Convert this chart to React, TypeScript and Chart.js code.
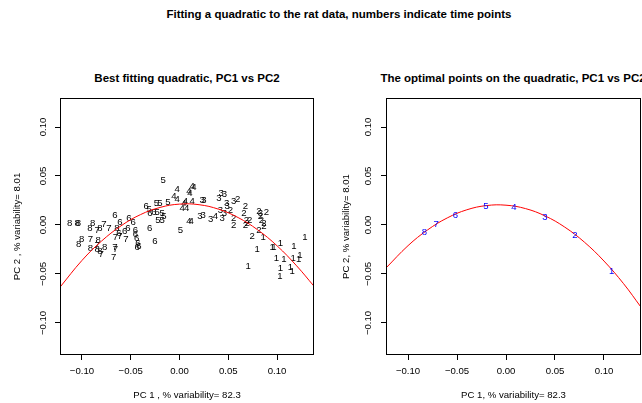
import React, { useEffect, useRef } from "react";
import { Chart, registerables } from "chart.js";

Chart.register(...registerables);

const FONT = "'Liberation Sans', Arimo, Arial, Helvetica, sans-serif";

const mainTitle = "Fitting a quadratic to the rat data, numbers indicate time points";
const leftTitle = "Best fitting quadratic, PC1 vs PC2";
const rightTitle = "The optimal points on the quadratic, PC1 vs PC2";
const leftXTitle = "PC 1 , % variability= 82.3";
const leftYTitle = "PC 2 , % variability= 8.01";
const rightXTitle = "PC 1, % variability= 82.3";
const rightYTitle = "PC 2, % variability= 8.01";

const tickValues = [-0.1, -0.05, 0, 0.05, 0.1];
const tickLabels = ["\u22120.10", "\u22120.05", "0.00", "0.05", "0.10"];
const xRange = [-0.1225, 0.1378];
const yRange = [-0.1327, 0.1296];

// Left panel: every sample, labelled by its time point
const timePoint = [
  8, 8, 8, 8, 8, 8, 8, 8, 8, 8, 8, 8, 8, 8,
  7, 7, 7, 7, 7, 7, 7, 7, 7, 7, 7, 7,
  6, 6, 6, 6, 6, 6, 6, 6, 6, 6, 6, 6, 6, 6, 6, 6, 6, 6,
  5, 5, 5, 5, 5, 5, 5, 5, 5, 5, 5,
  4, 4, 4, 4, 4, 4, 4, 4, 4, 4, 4, 4, 4, 4, 4,
  3, 3, 3, 3, 3, 3, 3, 3, 3, 3, 3, 3, 3, 3, 3,
  2, 2, 2, 2, 2, 2, 2, 2, 2, 2, 2, 2, 2, 2, 2, 2, 2, 2,
  1, 1, 1, 1, 1, 1, 1, 1, 1, 1, 1, 1, 1, 1, 1, 1, 1,
];
const pc1 = [
  -0.1127, -0.1048, -0.1035, -0.0919, -0.0889, -0.0817, -0.1003, -0.1033, -0.0834, -0.0912, -0.0844, -0.0768, -0.0817, -0.0642,
  -0.0844, -0.0776, -0.0724, -0.0912, -0.0844, -0.0803, -0.0656, -0.0612, -0.055, -0.0663, -0.0656, -0.0676,
  -0.0663, -0.0612, -0.0519, -0.0475, -0.0563, -0.0529, -0.0622, -0.0451, -0.0451, -0.044, -0.0427, -0.0417, -0.0433, -0.0307, -0.0253, -0.0341, -0.0304, -0.0263,
  -0.031, -0.0236, -0.0202, -0.0229, -0.0177, -0.0161, -0.0222, -0.0177, -0.012, -0.0167, 0.001,
  -0.0024, -0.0058, -0.0024, 0.0095, 0.0106, 0.013, 0.0147, 0.0061, 0.0044, 0.0028, 0.0072, 0.013, 0.0095, 0.012, 0.0369,
  0.0233, 0.0249, 0.0208, 0.0243, 0.0318, 0.0403, 0.0427, 0.0461, 0.0482, 0.0489, 0.042, 0.0437, 0.0461, 0.0556, 0.083,
  0.0597, 0.0676, 0.0659, 0.0556, 0.0556, 0.0686, 0.0693, 0.0676, 0.072, 0.0813, 0.0891, 0.083, 0.084, 0.0864, 0.0813, 0.0864, 0.0745, 0.0522,
  0.0857, 0.1035, 0.095, 0.0966, 0.0796, 0.1171, 0.1284, 0.0994, 0.1069, 0.1165, 0.1233, 0.1222, 0.1035, 0.1137, 0.1028, 0.1155, 0.0704,
];
const pc2 = [
  0.0017, 0.0017, 0.0017, -0.0034, 0.0017, -0.0034, -0.0146, -0.0197, -0.0153, -0.0238, -0.0248, -0.0228, -0.0272, -0.0034,
  -0.0051, 0.0007, -0.0034, -0.0143, -0.0204, -0.0296, -0.0126, -0.0119, -0.0146, -0.0228, -0.0245, -0.033,
  0.0102, 0.0028, 0.0068, 0.0023, -0.0068, -0.0034, -0.0085, -0.0051, -0.0092, -0.0136, -0.0187, -0.0214, -0.0228, -0.0034, -0.0163, 0.0187, 0.0119, 0.0126,
  0.016, 0.0221, 0.0221, 0.0126, 0.0119, 0.0085, 0.0044, 0.0051, 0.0228, 0.0452, -0.0051,
  0.0364, 0.0289, 0.0262, 0.034, 0.0323, 0.0398, 0.0385, 0.0238, 0.0221, 0.017, 0.017, 0.0238, 0.0034, 0.0034, 0.0085,
  0.0248, 0.0248, 0.0085, 0.0102, 0.0058, 0.0272, 0.0323, 0.0316, 0.0221, 0.0187, 0.0153, 0.0068, 0.0119, 0.0238, 0.0119,
  0.0265, 0.0194, 0.0119, 0.0068, 0.0, 0.0051, 0.0017, 0.0, 0.0051, 0.0136, 0.0126, 0.0085, 0.0051, 0.0017, -0.0051, -0.0017, -0.0119, 0.0146,
  -0.0126, -0.0187, -0.0232, -0.0232, -0.0248, -0.0214, -0.0126, -0.034, -0.035, -0.034, -0.0306, -0.035, -0.0442, -0.0432, -0.052, -0.0477, -0.0418,
];

// Fitted quadratic curves
const curveX = [-0.1225, -0.1, -0.08, -0.06, -0.04, -0.02, 0, 0.02, 0.04, 0.06, 0.08, 0.1, 0.12, 0.1378];
const fitLeftY = [-0.0635, -0.0362, -0.0165, -0.0009, 0.0106, 0.0179, 0.0213, 0.0207, 0.0161, 0.0076, -0.0049, -0.0213, -0.0417, -0.0625];
const fitRightY = [-0.0439, -0.0211, -0.005, 0.0072, 0.0155, 0.0198, 0.0202, 0.0167, 0.0092, -0.0022, -0.0175, -0.0368, -0.0599, -0.0839];

// Right panel: optimal point of each time point on the curve
const optLabel = [1, 2, 3, 4, 5, 6, 7, 8];
const optPc1 = [0.1078, 0.0704, 0.0398, 0.0082, -0.0204, -0.0517, -0.0714, -0.0834];
const optPc2 = [-0.0476, -0.0105, 0.0082, 0.0177, 0.0191, 0.0102, 0.0007, -0.0071];

// draws each point as its time-point number, at the position the scales give it
const digitPlugin = {
  id: "digits",
  _paint(chart: any, layer: string) {
    const { ctx, chartArea: a } = chart;
    chart.data.datasets.forEach((ds: any, i: number) => {
      if (!ds.digitLabels || ds.digitLayer !== layer) return;
      const meta = chart.getDatasetMeta(i);
      ctx.save();
      ctx.beginPath();
      ctx.rect(a.left, a.top, a.right - a.left, a.bottom - a.top);
      ctx.clip();
      ctx.font = `9.6px ${FONT}`;
      ctx.fillStyle = ds.digitColor;
      ctx.textAlign = "center";
      ctx.textBaseline = "middle";
      meta.data.forEach((el: any, j: number) => {
        ctx.fillText(String(ds.digitLabels[j]), el.x, el.y);
      });
      ctx.restore();
    });
  },
  beforeDatasetsDraw(chart: any) {
    (this as any)._paint(chart, "under");
  },
  afterDatasetsDraw(chart: any) {
    (this as any)._paint(chart, "over");
  },
};

const boxPlugin = {
  id: "rbox",
  afterDraw(chart: any) {
    const { ctx, chartArea: a } = chart;
    ctx.save();
    ctx.strokeStyle = "#000";
    ctx.lineWidth = 1;
    ctx.strokeRect(
      Math.round(a.left) + 0.5,
      Math.round(a.top) + 0.5,
      Math.round(a.right - a.left) - 1,
      Math.round(a.bottom - a.top) - 1
    );
    ctx.restore();
  },
};

function buildConfig(datasets: any[], padRight: number, xTitle: string, yTitle: string, yTitlePad: number, yTickPad: number) {
  const tickFont = { family: FONT, size: 9.6 };
  const grid = { display: true, drawOnChartArea: false, drawTicks: true, tickLength: 5, color: "#000", lineWidth: 1 };
  return {
    type: "scatter",
    data: { datasets },
    options: {
      responsive: false,
      animation: false,
      events: [],
      layout: { padding: { left: 0, top: 98, right: padRight, bottom: 0 } },
      plugins: { legend: { display: false }, tooltip: { enabled: false }, title: { display: false } },
      scales: {
        x: {
          type: "linear",
          min: xRange[0],
          max: xRange[1],
          afterBuildTicks: (s: any) => {
            s.ticks = tickValues.map((v) => ({ value: v }));
          },
          afterFit: (s: any) => {
            s.height = 48;
          },
          grid,
          border: { display: false },
          ticks: {
            autoSkip: false,
            minRotation: 0,
            maxRotation: 0,
            padding: 6,
            color: "#000",
            font: tickFont,
            callback: (_v: any, i: number) => tickLabels[i],
          },
          title: { display: true, text: xTitle, color: "#000", font: tickFont, padding: { top: 0, bottom: 2 } },
        },
        y: {
          type: "linear",
          min: yRange[0],
          max: yRange[1],
          afterBuildTicks: (s: any) => {
            s.ticks = tickValues.map((v) => ({ value: v }));
          },
          afterFit: (s: any) => {
            s.width = 60;
          },
          grid,
          border: { display: false },
          ticks: {
            autoSkip: false,
            minRotation: 90,
            maxRotation: 90,
            crossAlign: "center",
            padding: yTickPad,
            color: "#000",
            font: tickFont,
            callback: (_v: any, i: number) => tickLabels[i],
          },
          title: { display: true, text: yTitle, color: "#000", font: tickFont, padding: { top: yTitlePad, bottom: 0 } },
        },
      },
    },
    plugins: [digitPlugin, boxPlugin],
  };
}

export default function App() {
  const leftRef = useRef<HTMLCanvasElement>(null);
  const rightRef = useRef<HTMLCanvasElement>(null);

  useEffect(() => {
    const leftDatasets = [
      {
        type: "line",
        data: curveX.map((x, i) => ({ x, y: fitLeftY[i] })),
        borderColor: "#FF0000",
        borderWidth: 1,
        pointRadius: 0,
        tension: 0.4,
        fill: false,
      },
      {
        type: "scatter",
        data: pc1.map((x, i) => ({ x, y: pc2[i] })),
        pointRadius: 0,
        digitLabels: timePoint,
        digitColor: "#000000",
        digitLayer: "under",
      },
    ];

    const rightDatasets = [
      {
        type: "line",
        data: curveX.map((x, i) => ({ x, y: fitRightY[i] })),
        borderColor: "#FF0000",
        borderWidth: 1,
        pointRadius: 0,
        tension: 0.4,
        fill: false,
      },
      {
        type: "scatter",
        data: optPc1.map((x, i) => ({ x, y: optPc2[i] })),
        pointRadius: 0,
        digitLabels: optLabel,
        digitColor: "#0000FF",
        digitLayer: "over",
      },
    ];

    const c1 = new Chart(leftRef.current as any, buildConfig(leftDatasets, 7, leftXTitle, leftYTitle, 12, 0) as any);
    const c2 = new Chart(rightRef.current as any, buildConfig(rightDatasets, 1, rightXTitle, rightYTitle, 15, 1) as any);
    return () => {
      c1.destroy();
      c2.destroy();
    };
  }, []);

  const titleStyle: React.CSSProperties = {
    position: "absolute",
    textAlign: "center",
    fontWeight: "bold",
    fontSize: 11.5,
    lineHeight: "14px",
    whiteSpace: "nowrap",
    color: "#000",
  };

  return (
    <div
      style={{
        position: "absolute",
        left: 0,
        top: 0,
        width: 642,
        height: 403,
        overflow: "hidden",
        background: "#fff",
        fontFamily: FONT,
      }}
    >
      <div style={{ ...titleStyle, left: 0, width: 678, top: 7 }}>{mainTitle}</div>
      <div style={{ ...titleStyle, left: 0, width: 374, top: 71 }}>{leftTitle}</div>
      <div style={{ ...titleStyle, left: 313, width: 400, top: 71 }}>{rightTitle}</div>
      <canvas ref={leftRef} width={321} height={403} style={{ position: "absolute", left: 0, top: 0 }} />
      <canvas ref={rightRef} width={316} height={403} style={{ position: "absolute", left: 326, top: 0 }} />
    </div>
  );
}
